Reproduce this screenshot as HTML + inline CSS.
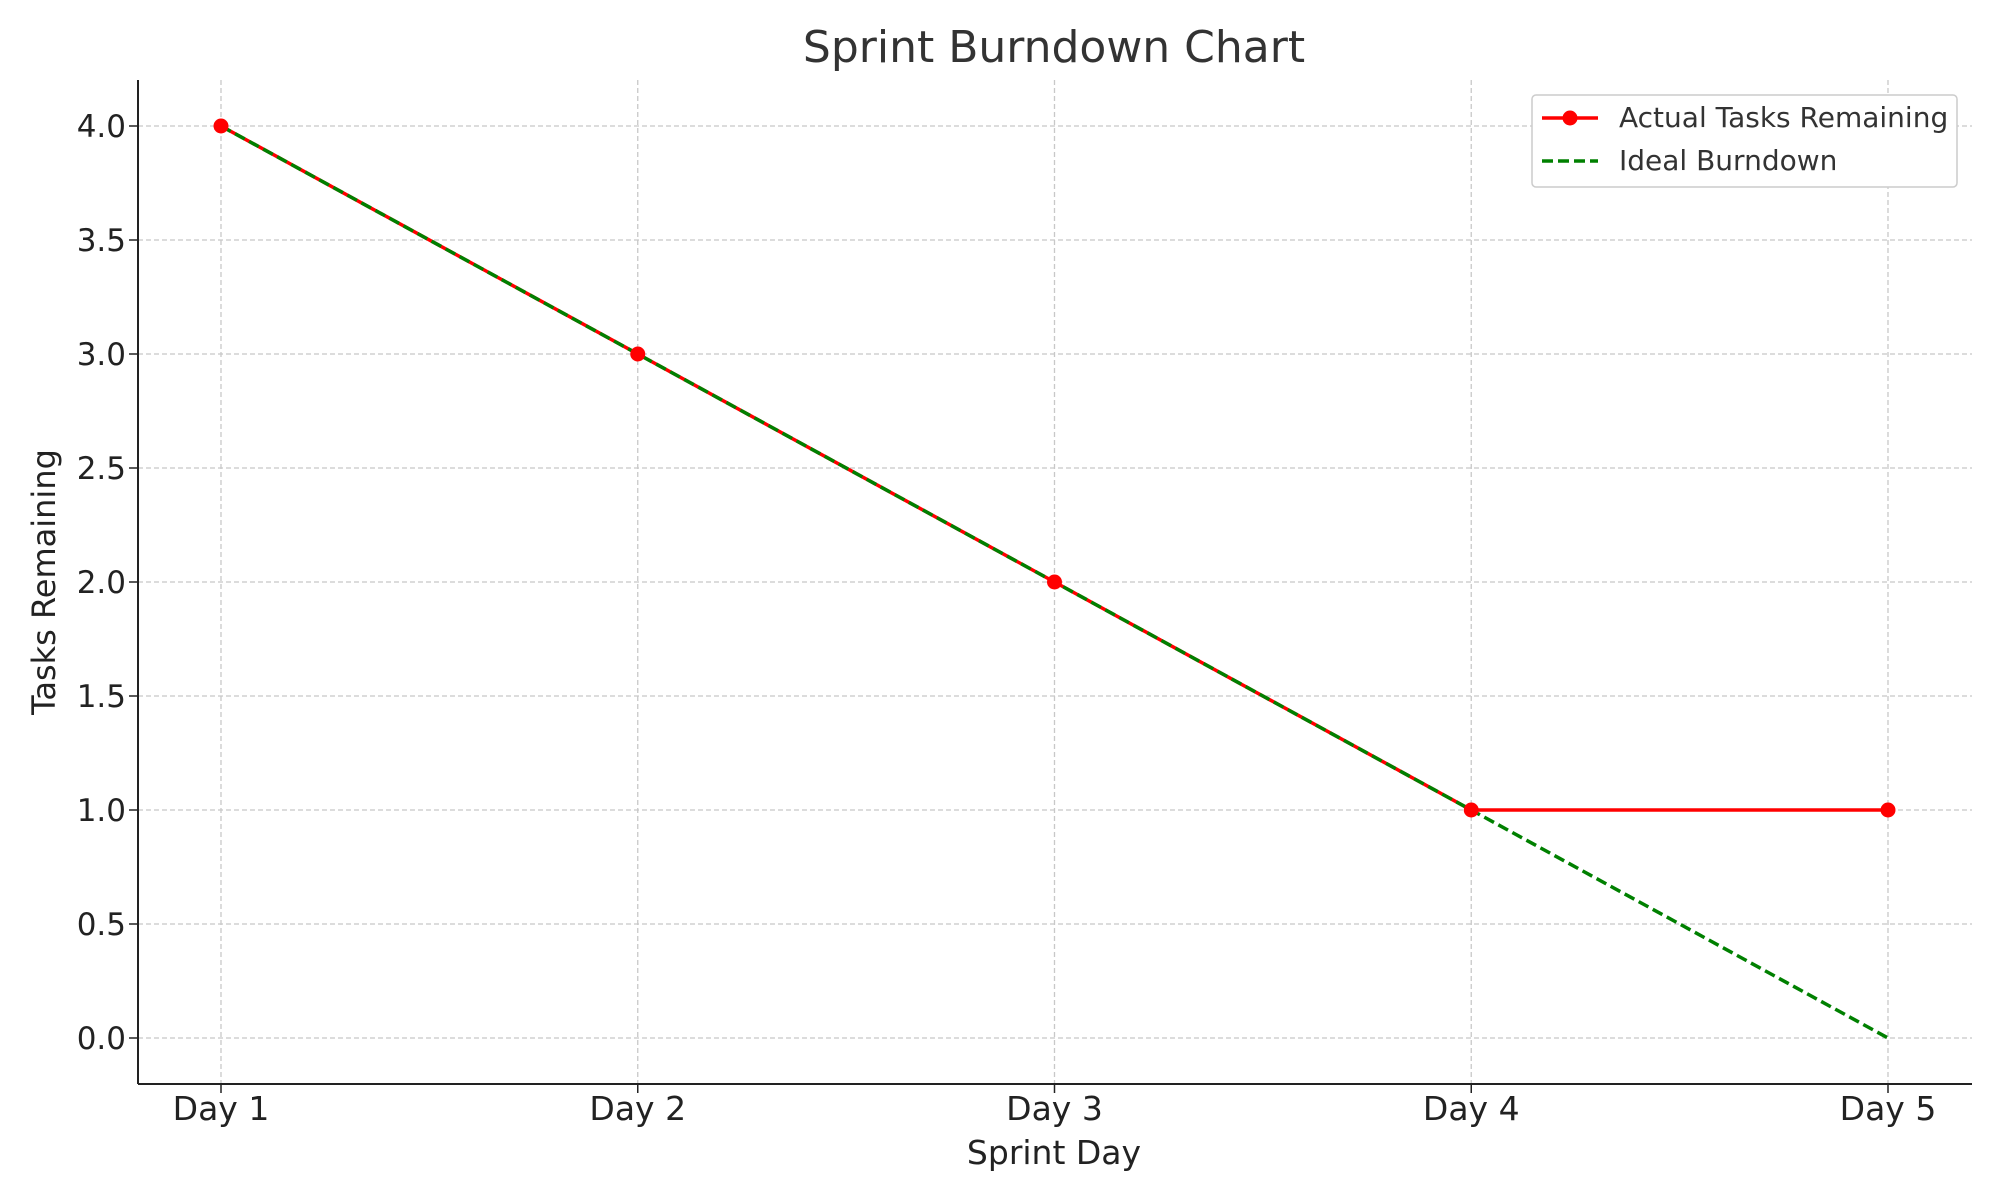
<!DOCTYPE html>
<html><head><meta charset="utf-8"><style>
html,body{margin:0;padding:0;background:#fff;}
svg{display:block;font-family:"DejaVu Sans","Liberation Sans",sans-serif;}
</style></head><body>
<svg id="chart" width="2000" height="1200" viewBox="0 0 2000 1200">
<rect width="2000" height="1200" fill="#fff"/>
<text x="1054" y="62" font-size="44" fill="#333" text-anchor="middle">Sprint Burndown Chart</text>
<g id="grid"></g>
<g id="series"></g>
<g id="axes"></g>
<text x="1054" y="1164" font-size="33" fill="#222" text-anchor="middle">Sprint Day</text>
<text transform="translate(55,582) rotate(-90)" font-size="32" fill="#222" text-anchor="middle">Tasks Remaining</text>
<g>
<rect x="1532" y="95" width="425" height="92" rx="4" fill="#fff" stroke="#ccc" stroke-width="1.5"/>
<line x1="1542" y1="118" x2="1598" y2="118" stroke="#ff0000" stroke-width="3.5"/>
<circle cx="1570" cy="118" r="7.5" fill="#ff0000"/>
<text x="1619" y="127" font-size="28" fill="#333">Actual Tasks Remaining</text>
<line x1="1542" y1="161" x2="1598" y2="161" stroke="#008000" stroke-width="3.5" stroke-dasharray="11,5"/>
<text x="1619" y="170" font-size="28" fill="#333">Ideal Burndown</text>
</g>
</svg>
<script>
const categories = ["Day 1","Day 2","Day 3","Day 4","Day 5"];
const actualValues = [4,3,2,1,1];
const idealValues = [4,3,2,1,0];
const yTicks = [0,0.5,1,1.5,2,2.5,3,3.5,4];
const yTickLabels = ["0.0","0.5","1.0","1.5","2.0","2.5","3.0","3.5","4.0"];

const NS="http://www.w3.org/2000/svg";
const L=138,R=1972,T=80,B=1084;
const X0=221,X1=1888;
function xs(i){return X0+(X1-X0)*i/(categories.length-1);}
function ys(v){return 1038+(126-1038)*v/4;}
function mk(tag,attrs,parent){const e=document.createElementNS(NS,tag);for(const k in attrs)e.setAttribute(k,attrs[k]);parent.appendChild(e);return e;}
const grid=document.getElementById('grid'),axes=document.getElementById('axes'),series=document.getElementById('series');
yTicks.forEach((v,i)=>{
  const g=mk('line',{x1:L,x2:R,y1:ys(v),y2:ys(v),stroke:'#c8c8c8','stroke-width':1.3,'stroke-dasharray':'5,3'},grid);
  
  
  const t=mk('line',{x1:L-9,x2:L,y1:ys(v),y2:ys(v),stroke:'#222','stroke-width':1.5},axes);
  
  
  const tx=mk('text',{x:L-12,y:ys(v)+11,'font-size':31,fill:'#222','text-anchor':'end'},axes);
  tx.textContent=yTickLabels[i];
  
  
});
categories.forEach((c,i)=>{
  const g=mk('line',{x1:xs(i),x2:xs(i),y1:T,y2:B,stroke:'#c8c8c8','stroke-width':1.3,'stroke-dasharray':'5,3'},grid);
  
  
  const t=mk('line',{x1:xs(i),x2:xs(i),y1:B,y2:B+9,stroke:'#222','stroke-width':1.5},axes);
  
  
  const tx=mk('text',{x:xs(i),y:B+36,'font-size':33,fill:'#222','text-anchor':'middle'},axes);
  tx.textContent=c;
  
  
});
const al=mk('line',{x1:L,x2:L,y1:T,y2:B,stroke:'#222','stroke-width':2},axes);


const bl=mk('line',{x1:L,x2:R,y1:B,y2:B,stroke:'#222','stroke-width':2},axes);


const ap=mk('polyline',{points:actualValues.map((v,i)=>xs(i)+','+ys(v)).join(' '),fill:'none',stroke:'#ff0000','stroke-width':3.5},series);


const ip=mk('polyline',{points:idealValues.map((v,i)=>xs(i)+','+ys(v)).join(' '),fill:'none',stroke:'#008000','stroke-width':3.5,'stroke-dasharray':'11,5'},series);


actualValues.forEach((v,i)=>{
  const c=mk('circle',{cx:xs(i),cy:ys(v),r:7.5,fill:'#ff0000'},series);
  
  
});
</script>
</body></html>
